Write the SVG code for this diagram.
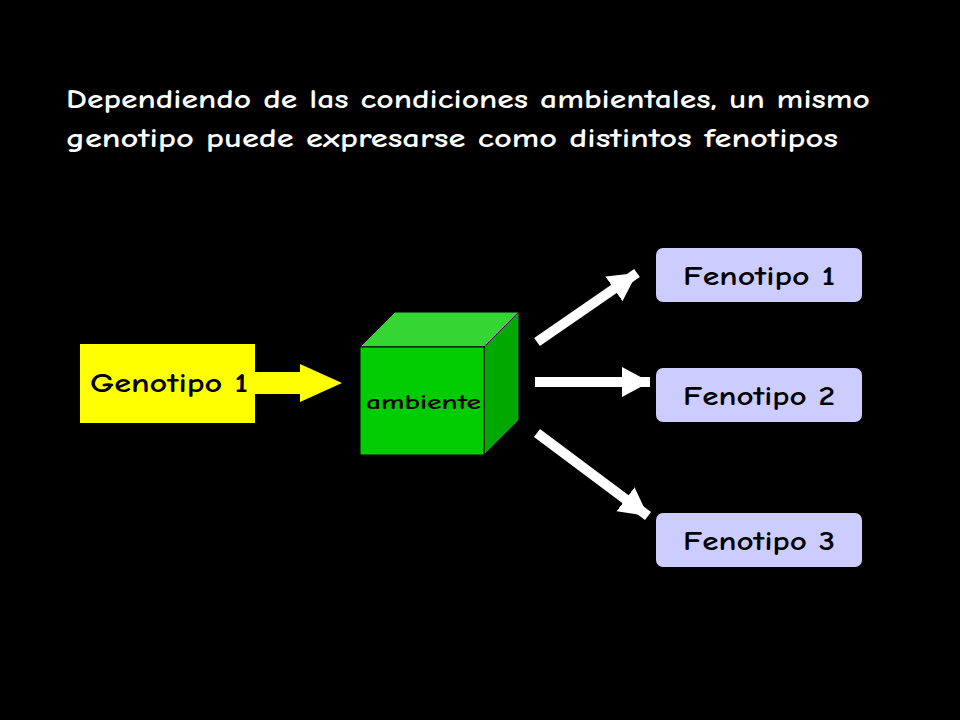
<svg xmlns="http://www.w3.org/2000/svg" width="960" height="720" viewBox="0 0 960 720">
<style>
text{font-family:"Comic Neue","DejaVu Sans",sans-serif;font-weight:bold;}
.t{font-size:27px;fill:#fff}
.f{fill:#ccccff}
.fl{font-size:27px;fill:#000;text-anchor:middle}
.w{stroke:#fff;stroke-width:10;fill:none}
</style>
<defs>
<marker id="ah" markerUnits="userSpaceOnUse" markerWidth="32" markerHeight="32" refX="28" refY="15" orient="auto">
<path d="M0,0 L28,15 L0,30 Z" fill="#fff"/>
</marker>
</defs>
<rect width="960" height="720" fill="#000"/>
<text class="t" x="66" y="108" textLength="804" lengthAdjust="spacingAndGlyphs">Dependiendo de las condiciones ambientales, un mismo</text>
<text class="t" x="66" y="147" textLength="772" lengthAdjust="spacingAndGlyphs">genotipo puede expresarse como distintos fenotipos</text>
<g id="genotipo">
<rect x="80" y="344" width="175" height="79" fill="#ffff00"/>
<text x="90" y="392" font-size="27" fill="#000" textLength="158" lengthAdjust="spacingAndGlyphs">Genotipo 1</text>
</g>
<g id="ambiente">
<path d="M360,347 L395,312 L519,312 L484,347 Z" fill="#33d633" stroke="#000" stroke-width="1"/>
<path d="M484,347 L519,312 L519,420 L484,455 Z" fill="#00a800" stroke="#000" stroke-width="1"/>
<rect x="360" y="347" width="124" height="108" fill="#00cc00" stroke="#000" stroke-width="1"/>
<text x="366" y="409" font-size="21" fill="#000" textLength="115" lengthAdjust="spacingAndGlyphs">ambiente</text>
</g>
<g id="fenotipo1"><rect class="f" x="656" y="248" width="206" height="54" rx="7"/><text class="fl" x="759" y="285" textLength="152" lengthAdjust="spacingAndGlyphs">Fenotipo 1</text></g>
<g id="fenotipo2"><rect class="f" x="656" y="368" width="206" height="54" rx="7"/><text class="fl" x="759" y="405" textLength="152" lengthAdjust="spacingAndGlyphs">Fenotipo 2</text></g>
<g id="fenotipo3"><rect class="f" x="656" y="513" width="206" height="54" rx="7"/><text class="fl" x="759" y="550" textLength="152" lengthAdjust="spacingAndGlyphs">Fenotipo 3</text></g>
<g id="connectors">
<path d="M255,372 L300,372 L300,364 L342,383 L300,402 L300,394 L255,394 Z" fill="#ffff00"/>
<line class="w" x1="537" y1="342" x2="637" y2="273" marker-end="url(#ah)"/>
<line class="w" x1="535" y1="382" x2="650" y2="382" marker-end="url(#ah)"/>
<line class="w" x1="537" y1="433" x2="648" y2="516" marker-end="url(#ah)"/>
</g>
</svg>
